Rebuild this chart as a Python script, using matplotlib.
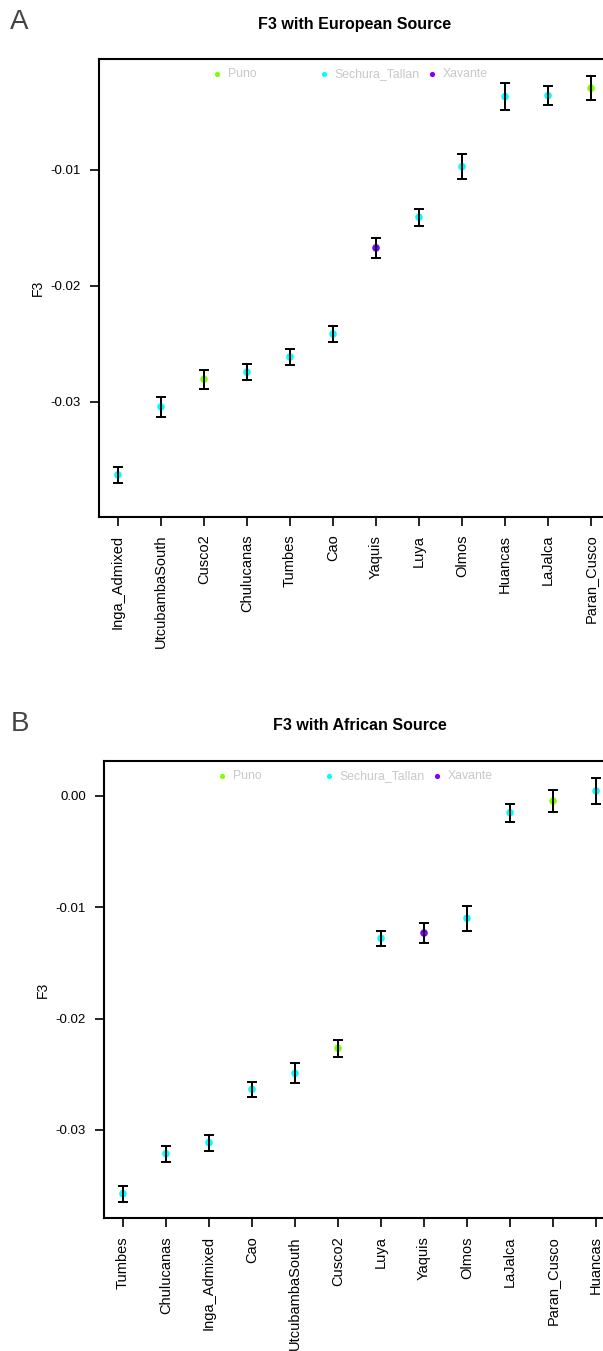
import matplotlib
matplotlib.use("Agg")
import matplotlib.pyplot as plt

plt.rcParams['font.family'] = ['Liberation Sans', 'DejaVu Sans']
plt.rcParams['axes.unicode_minus'] = False

# population colours (rainbow minus red)
pop_colors = {"Puno": "#80FF00", "Sechura_Tallan": "#00FFFF", "Xavante": "#8000FF"}
legend_pops = ["Puno", "Sechura_Tallan", "Xavante"]

# F3 with European source
eu_names = ["Inga_Admixed", "UtcubambaSouth", "Cusco2", "Chulucanas", "Tumbes", "Cao",
            "Yaquis", "Luya", "Olmos", "Huancas", "LaJalca", "Paran_Cusco"]
eu_f3 = [-0.03629, -0.03043, -0.02804, -0.02744, -0.02612, -0.02414,
         -0.01672, -0.01408, -0.00972, -0.00368, -0.00359, -0.00296]
eu_se = [0.00069, 0.00089, 0.00082, 0.00071, 0.00069, 0.00066,
         0.00089, 0.00072, 0.00109, 0.00119, 0.00085, 0.00105]
eu_best = ["Sechura_Tallan", "Sechura_Tallan", "Puno", "Sechura_Tallan", "Sechura_Tallan", "Sechura_Tallan",
           "Xavante", "Sechura_Tallan", "Sechura_Tallan", "Sechura_Tallan", "Sechura_Tallan", "Puno"]

# F3 with African source
af_names = ["Tumbes", "Chulucanas", "Inga_Admixed", "Cao", "UtcubambaSouth", "Cusco2",
            "Luya", "Yaquis", "Olmos", "LaJalca", "Paran_Cusco", "Huancas"]
af_f3 = [-0.03573, -0.03214, -0.03115, -0.02635, -0.02491, -0.02267,
         -0.01279, -0.01231, -0.01099, -0.00150, -0.00045, 0.00045]
af_se = [0.00071, 0.00072, 0.00071, 0.00067, 0.00090, 0.00079,
         0.00070, 0.00087, 0.00110, 0.00082, 0.00103, 0.00117]
af_best = ["Sechura_Tallan", "Sechura_Tallan", "Sechura_Tallan", "Sechura_Tallan", "Sechura_Tallan", "Puno",
           "Sechura_Tallan", "Xavante", "Sechura_Tallan", "Sechura_Tallan", "Puno", "Sechura_Tallan"]

eu_ticks = [-0.03, -0.02, -0.01]
af_ticks = [-0.03, -0.02, -0.01, 0.00]


def f3_panel(ax, names, f3, se, best, ticks, ylim, title, letter):
    x = list(range(1, len(names) + 1))
    ax.scatter(x, f3, s=30, c=[pop_colors[b] for b in best], zorder=2, linewidths=0)
    ax.errorbar(x, f3, yerr=se, fmt='none', ecolor='black', elinewidth=1.4,
                capsize=3.3, capthick=1.4, zorder=3)
    ax.set_xlim(0.56, len(names) + 0.44)
    ax.set_ylim(*ylim)
    ax.set_xticks(x)
    ax.set_xticklabels(names, rotation=90, fontsize=10.5)
    ax.set_yticks(ticks)
    ax.set_yticklabels(["%.2f" % t for t in ticks], fontsize=9.5)
    ax.tick_params(direction='out', length=6.5, width=1.2, pad=6.5, colors='black')
    for s in ax.spines.values():
        s.set_linewidth(1.5)
    ax.set_ylabel("F3", fontsize=10, labelpad=4)
    ax.set_title(title, fontsize=11.5, fontweight='bold', pad=22)
    # panel letter sits near the left edge of the figure
    top = ax.get_position().y1
    ax.figure.text(0.017, top + 30 / 1351, letter, fontsize=20, color='#444444',
                   ha='left', va='baseline')
    # horizontal legend along the top of the box
    for xf, pop in zip([0.231, 0.440, 0.651], legend_pops):
        ax.scatter([xf], [0.968], s=14, c=pop_colors[pop], transform=ax.transAxes,
                   linewidths=0, clip_on=False)
        ax.text(xf + 0.021, 0.968, pop, transform=ax.transAxes, fontsize=8.8,
                color='#c8c8c8', ha='left', va='center')


fig = plt.figure(figsize=(6.03, 13.51), dpi=100)
ax1 = fig.add_axes([0.1642, 0.6176, 0.8474, 0.3385])
ax2 = fig.add_axes([0.1725, 0.0984, 0.8474, 0.3383])

f3_panel(ax1, eu_names, eu_f3, eu_se, eu_best, eu_ticks, (-0.03989, -0.00046),
         "F3 with European Source", "A")
f3_panel(ax2, af_names, af_f3, af_se, af_best, af_ticks, (-0.03792, 0.00314),
         "F3 with African Source", "B")

fig.savefig("out.png", dpi=100)
